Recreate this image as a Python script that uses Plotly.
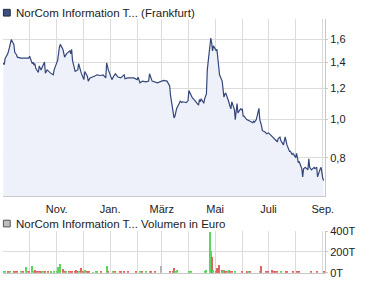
import plotly.graph_objects as go

price_dates = ["2010-09-01","2010-09-02","2010-09-03","2010-09-06","2010-09-08","2010-09-10","2010-09-13","2010-09-14","2010-09-16","2010-09-17",
"2010-09-21","2010-09-24","2010-09-28","2010-09-30","2010-10-01","2010-10-04","2010-10-05","2010-10-06","2010-10-07","2010-10-08",
"2010-10-11","2010-10-12","2010-10-14","2010-10-18","2010-10-19","2010-10-21","2010-10-25","2010-10-28","2010-10-29","2010-11-02",
"2010-11-04","2010-11-05","2010-11-08","2010-11-09","2010-11-10","2010-11-12","2010-11-16","2010-11-17","2010-11-18","2010-11-19",
"2010-11-22","2010-11-25","2010-11-26","2010-11-29","2010-12-02","2010-12-03","2010-12-06","2010-12-07","2010-12-09","2010-12-14",
"2010-12-17","2010-12-21","2010-12-24","2010-12-27","2010-12-28","2010-12-30","2011-01-03","2011-01-05","2011-01-07","2011-01-10",
"2011-01-13","2011-01-17","2011-01-18","2011-01-21","2011-01-24","2011-01-28","2011-02-01","2011-02-02","2011-02-04","2011-02-07",
"2011-02-11","2011-02-14","2011-02-15","2011-02-17","2011-02-18","2011-02-24","2011-02-28","2011-03-03","2011-03-07","2011-03-09",
"2011-03-10","2011-03-11","2011-03-14","2011-03-15","2011-03-16","2011-03-18","2011-03-21","2011-03-22","2011-03-24","2011-03-25",
"2011-03-29","2011-03-31","2011-04-01","2011-04-04","2011-04-05","2011-04-06","2011-04-08","2011-04-11","2011-04-12","2011-04-13",
"2011-04-14","2011-04-15","2011-04-18","2011-04-19","2011-04-21","2011-04-22","2011-04-25","2011-04-26","2011-04-27","2011-04-28",
"2011-04-29","2011-05-02","2011-05-03","2011-05-04","2011-05-05","2011-05-06","2011-05-09","2011-05-10","2011-05-11","2011-05-12",
"2011-05-13","2011-05-16","2011-05-17","2011-05-18","2011-05-19","2011-05-20","2011-05-23","2011-05-24","2011-05-25","2011-05-26",
"2011-05-27","2011-05-30","2011-05-31","2011-06-01","2011-06-02","2011-06-03","2011-06-06","2011-06-09","2011-06-10","2011-06-13",
"2011-06-14","2011-06-15","2011-06-17","2011-06-20","2011-06-21","2011-06-23","2011-06-24","2011-06-27","2011-06-29","2011-07-01",
"2011-07-04","2011-07-05","2011-07-07","2011-07-08","2011-07-11","2011-07-12","2011-07-14","2011-07-15","2011-07-18","2011-07-20",
"2011-07-22","2011-07-25","2011-07-26","2011-07-28","2011-07-29","2011-08-01","2011-08-02","2011-08-04","2011-08-05","2011-08-08",
"2011-08-09","2011-08-10","2011-08-12","2011-08-15","2011-08-16","2011-08-17","2011-08-19","2011-08-22","2011-08-23","2011-08-25",
"2011-08-26","2011-08-29","2011-08-30","2011-09-01","2011-09-02"]

price_values = [1.394,1.379,1.43,1.47,1.526,1.599,1.554,1.483,1.463,1.442,
1.434,1.434,1.434,1.434,1.45,1.388,1.40,1.376,1.388,1.351,
1.318,1.37,1.338,1.402,1.313,1.338,1.313,1.30,1.338,1.415,
1.526,1.554,1.51,1.47,1.442,1.47,1.496,1.47,1.51,1.415,
1.326,1.338,1.388,1.313,1.264,1.326,1.289,1.253,1.277,1.289,
1.30,1.295,1.30,1.277,1.394,1.338,1.264,1.289,1.308,1.283,
1.277,1.30,1.27,1.277,1.277,1.277,1.264,1.283,1.241,1.253,
1.247,1.253,1.308,1.264,1.253,1.241,1.253,1.258,1.253,1.229,
1.218,1.152,1.049,1.01,1.02,1.068,1.10,1.114,1.105,1.11,
1.105,1.118,1.185,1.14,1.135,1.13,1.118,1.10,1.089,1.125,
1.11,1.13,1.10,1.13,1.162,1.338,1.554,1.613,1.568,1.496,
1.54,1.50,1.51,1.415,1.363,1.30,1.253,1.195,1.141,1.16,
1.169,1.12,1.089,1.08,1.065,1.11,1.06,1.0,1.05,1.099,
1.04,1.065,1.06,1.065,1.02,1.02,1.0,0.99,0.99,0.982,
0.99,0.985,1.0,1.068,1.0,0.964,0.937,0.93,0.92,0.925,
0.91,0.905,0.895,0.89,0.878,0.895,0.903,0.885,0.862,0.903,
0.862,0.83,0.83,0.815,0.82,0.80,0.82,0.777,0.782,0.749,
0.715,0.749,0.756,0.745,0.795,0.756,0.745,0.756,0.75,0.756,
0.715,0.749,0.756,0.708,0.70]

vol_dates = ["2010-09-01","2010-09-03","2010-09-06","2010-09-07","2010-09-09","2010-09-13","2010-09-14","2010-09-17","2010-09-21","2010-09-24",
"2010-09-27","2010-09-28","2010-09-30","2010-10-04","2010-10-06","2010-10-07","2010-10-08","2010-10-11","2010-10-13","2010-10-14",
"2010-10-15","2010-10-18","2010-10-19","2010-10-22","2010-10-25","2010-10-26","2010-10-29","2010-11-01","2010-11-03","2010-11-04",
"2010-11-05","2010-11-08","2010-11-10","2010-11-12","2010-11-15","2010-11-17","2010-11-18","2010-11-22","2010-11-23","2010-11-24",
"2010-11-26","2010-11-29","2010-12-01","2010-12-02","2010-12-03","2010-12-06","2010-12-07","2010-12-08","2010-12-13","2010-12-16",
"2010-12-17","2010-12-22","2010-12-29","2010-12-30","2011-01-04","2011-01-07","2011-01-12","2011-01-14","2011-01-17","2011-01-21",
"2011-01-31","2011-02-04","2011-02-07","2011-02-11","2011-02-16","2011-02-17","2011-02-21","2011-02-28","2011-03-11","2011-03-14",
"2011-03-15","2011-03-16","2011-03-18","2011-04-01","2011-04-04","2011-04-20","2011-04-21","2011-04-25","2011-04-26","2011-04-27",
"2011-04-28","2011-04-29","2011-05-02","2011-05-03","2011-05-04","2011-05-05","2011-05-06","2011-05-09","2011-05-10","2011-05-11",
"2011-05-12","2011-05-13","2011-05-16","2011-05-17","2011-05-18","2011-05-20","2011-05-24","2011-06-01","2011-06-06","2011-06-07",
"2011-06-08","2011-06-10","2011-06-21","2011-06-22","2011-06-23","2011-06-28","2011-07-01","2011-07-05","2011-07-07","2011-07-08",
"2011-07-11","2011-07-15","2011-07-21","2011-07-22","2011-07-29","2011-08-03","2011-08-05","2011-08-19","2011-08-26","2011-09-02"]

vol_thousands = [15,15,9,15,9,15,9,6,9,9,
55,9,6,62,9,21,15,6,9,6,
9,9,15,9,12,15,9,18,52,25,
80,34,9,6,6,9,9,18,25,15,
15,43,18,9,28,9,15,9,3,12,
9,6,62,6,15,6,6,9,6,6,
9,6,6,6,15,9,6,62,9,18,
43,9,25,12,6,15,28,390,212,145,
37,22,15,43,18,62,77,22,18,22,
18,18,12,28,12,9,12,6,9,18,
9,9,18,12,58,18,12,22,12,9,
9,9,9,6,12,9,9,12,9,12]

vol_direction = ["up","up","up","down","up","down","down","down","up","down",
"up","up","down","up","up","down","down","down","down","down",
"up","up","down","down","up","up","up","up","up","up",
"up","down","down","up","down","down","down","down","down","down",
"up","down","down","up","up","down","down","down","up","up",
"up","down","up","down","up","down","down","down","down","down",
"down","up","down","up","up","down","down","flat","down","down",
"down","up","up","up","up","up","up","up","up","down",
"down","up","down","down","down","down","down","down","up","up",
"down","down","up","up","down","down","up","down","down","down",
"up","down","up","up","down","down","down","down","down","down",
"down","up","down","down","down","down","down","down","down","down"]

month_ticks = ["2010-09-01","2010-10-01","2010-11-01","2010-12-01","2011-01-01","2011-02-01","2011-03-01",
               "2011-04-01","2011-05-01","2011-06-01","2011-07-01","2011-08-01","2011-09-01"]
month_labels = ["", "", "Nov.", "", "Jan.", "", "März", "", "Mai", "", "Juli", "", "Sep."]

price_ticks = [0.8, 1.0, 1.2, 1.4, 1.6]
price_tick_labels = ["0,8", "1,0", "1,2", "1,4", "1,6"]
vol_ticks = [0, 200000, 400000]
vol_tick_labels = ["0T", "200T", "400T"]

color_map = {"up": "#5ad65a", "down": "#e06464", "flat": "#b4b4b4"}

W, H = 375, 288
FONT = "Liberation Sans, Arial, sans-serif"

fig = go.Figure()
fig.add_trace(go.Scatter(
    x=price_dates, y=price_values, mode="lines",
    line=dict(color="#34477a", width=1.2),
    fill="tozeroy", fillcolor="#eef1fa",
    xaxis="x", yaxis="y", hoverinfo="skip", showlegend=False))

fig.add_trace(go.Bar(
    x=vol_dates, y=[v * 1000 for v in vol_thousands],
    marker=dict(color=[color_map[d] for d in vol_direction], line=dict(width=0)),
    width=1.6 * 86400000,
    xaxis="x2", yaxis="y2", hoverinfo="skip", showlegend=False))

xr = ["2010-08-31 12:00", "2011-09-03 12:00"]
xdom = [3 / W, 333 / W]
grid = "#dcdcdc"

fig.update_layout(
    width=W, height=H, margin=dict(l=0, r=0, t=0, b=0),
    paper_bgcolor="white", plot_bgcolor="white",
    font=dict(family=FONT, size=11, color="#222222"),
    bargap=0,
    xaxis=dict(domain=xdom, range=xr, type="date", anchor="y",
               tickmode="array", tickvals=month_ticks, ticktext=month_labels,
               showgrid=True, gridcolor=grid, gridwidth=1,
               showline=True, linecolor="#c8c8c8", linewidth=1,
               ticks="", ticklabelstandoff=3, tickfont=dict(size=11), zeroline=False),
    yaxis=dict(domain=[1 - 198.3 / H, 1 - 14 / H], type="log",
               range=[-0.1946, 0.2550], side="right", anchor="x",
               tickmode="array", tickvals=price_ticks, ticktext=price_tick_labels,
               showgrid=True, gridcolor=grid, gridwidth=1,
               showline=True, linecolor="#c8c8c8", linewidth=1,
               ticks="outside", ticklen=2, tickcolor="#c8c8c8",
               tickfont=dict(size=11), zeroline=False),
    xaxis2=dict(domain=xdom, range=xr, type="date", anchor="y2",
                tickmode="array", tickvals=month_ticks, showticklabels=False,
                showgrid=True, gridcolor=grid, gridwidth=1,
                showline=True, linecolor="#c8c8c8", linewidth=1,
                ticks="", zeroline=False),
    yaxis2=dict(domain=[1 - 278.3 / H, 1 - 235 / H], range=[0, 400000],
                side="right", anchor="x2",
                tickmode="array", tickvals=vol_ticks, ticktext=vol_tick_labels,
                showgrid=True, gridcolor=grid, gridwidth=1,
                showline=True, linecolor="#c8c8c8", linewidth=1,
                ticks="outside", ticklen=2, tickcolor="#c8c8c8",
                tickfont=dict(size=11), zeroline=False),
    shapes=[
        dict(type="rect", xref="paper", yref="paper",
             x0=3.5 / W, x1=10.5 / W, y0=1 - 10.5 / H, y1=1 - 3.5 / H,
             fillcolor="#3d5080", line=dict(color="#1e2a44", width=1)),
        dict(type="rect", xref="paper", yref="paper",
             x0=3.5 / W, x1=10.5 / W, y0=1 - 230.5 / H, y1=1 - 223.5 / H,
             fillcolor="#bdbdbd", line=dict(color="#555555", width=1)),
    ],
    annotations=[
        dict(text="NorCom Information T... (Frankfurt)", xref="paper", yref="paper",
             x=14 / W, y=1 - 7 / H, xanchor="left", yanchor="middle", showarrow=False,
             font=dict(size=11.5, color="#222222", family=FONT)),
        dict(text="NorCom Information T... Volumen in Euro", xref="paper", yref="paper",
             x=14 / W, y=1 - 227 / H, xanchor="left", yanchor="middle", showarrow=False,
             font=dict(size=11.5, color="#222222", family=FONT)),
    ],
)

fig.write_html("out.html")
